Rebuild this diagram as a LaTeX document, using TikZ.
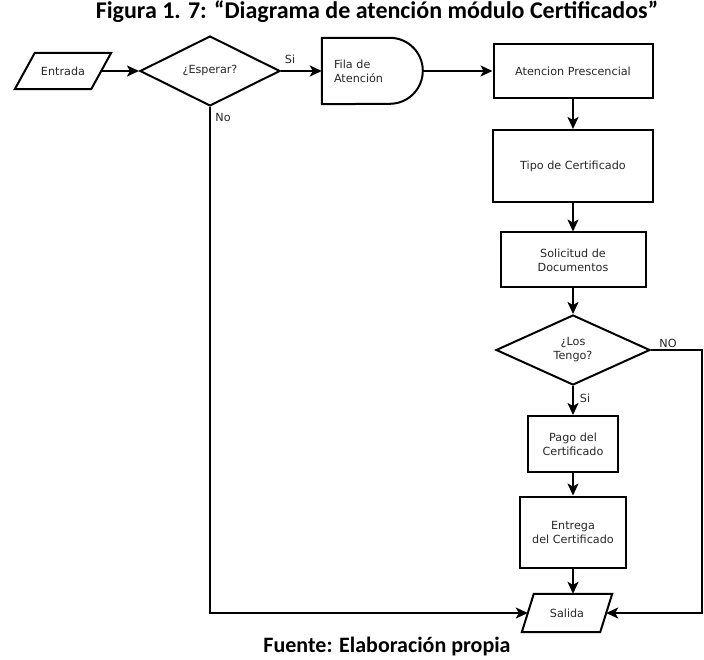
\documentclass[tikz,border=0pt]{standalone}
\usepackage{fontspec}
\setmainfont{DejaVu Sans}
\newfontfamily\capfont{Carlito}
\usetikzlibrary{shapes.geometric,arrows.meta}

\begin{document}
\begin{tikzpicture}[x=1pt,y=-1pt,
  every node/.style={font=\fontsize{11.2}{14}\selectfont, text=black!85},
  outline/.style={line width=2pt, line join=miter},
  box/.style={draw, outline, rectangle, align=center, inner sep=0pt},
  dec/.style={draw, outline, diamond, inner sep=0pt, align=center},
  iobody/.style={rectangle, inner sep=0pt, align=center},
  flow/.style={line width=2pt, -{Stealth[length=12pt,width=11pt,inset=3pt]}},
  lbl/.style={inner sep=0pt},
  caption/.style={font=\capfont\bfseries, text=black},
]
\useasboundingbox (0,0) rectangle (704,660);

% captions
\node[caption, font=\capfont\bfseries\fontsize{24}{28}\selectfont] (title) at (377,12) {Figura 1. 7: “Diagrama de atención módulo Certificados”};
\node[caption, font=\capfont\bfseries\fontsize{22}{26}\selectfont] (foot) at (387,647) {Fuente: Elaboración propia};

% input / output bodies (parallelograms drawn around them)
\node[iobody, minimum width=76pt, minimum height=36pt] (ent) at (63,71) {Entrada};
\draw[outline] ([xshift=-10pt]ent.south west) -- ([xshift=10pt]ent.north west)
  -- ([xshift=10pt]ent.north east) -- ([xshift=-10pt]ent.south east) -- cycle;
\node[iobody, minimum width=78pt, minimum height=38pt] (sal) at (567,613) {Salida};
\draw[outline] ([xshift=-6pt]sal.south west) -- ([xshift=6pt]sal.north west)
  -- ([xshift=6pt]sal.north east) -- ([xshift=-6pt]sal.south east) -- cycle;

% decisions
\node[dec, minimum width=140pt, minimum height=70pt] (esp) at (210,71) {¿Esperar?};
\node[dec, minimum width=154pt, minimum height=70pt] (tengo) at (573,350) {¿Los\\Tengo?};

% waiting line (delay shape)
\node[minimum height=66pt, text width=77pt, inner xsep=12pt, inner ysep=0pt, align=left] (fila) at (372.5,71) {Fila de\\Atención};
\draw[outline] (fila.north west) -- ++(68,0) arc[start angle=-90, end angle=90, radius=33] -- (fila.south west) -- cycle;

% process steps
\node[box, minimum width=159pt, minimum height=54pt] (aten) at (573,71) {Atencion Prescencial};
\node[box, minimum width=160pt, minimum height=72pt] (tipo) at (573,166) {Tipo de Certificado};
\node[box, minimum width=145pt, minimum height=55pt] (sol) at (573,260) {Solicitud de\\Documentos};
\node[box, minimum width=90pt, minimum height=56pt] (pago) at (573,444) {Pago del\\Certificado};
\node[box, minimum width=106pt, minimum height=71pt] (entr) at (573,532) {Entrega\\del Certificado};

% branch labels
\node[lbl] (si1) at (290,59) {Si};
\node[lbl] (no1) at (223,117) {No};
\node[lbl] (no2) at (668,343) {NO};
\node[lbl] (si2) at (585,398) {Si};

% connectors
\coordinate (rt) at (702,350);
\coordinate (rb) at (702,613);
\draw[flow] (ent.east) -- (esp.west);
\draw[flow] (esp.east) -- (fila.west);
\draw[flow] (fila.east) -- (aten.west);
\draw[flow] (aten) -- (tipo);
\draw[flow] (tipo) -- (sol);
\draw[flow] (sol) -- (tengo);
\draw[flow] (tengo) -- (pago);
\draw[flow] (pago) -- (entr);
\draw[flow] (entr.south) -- (entr.south |- sal.north);
\draw[flow] (esp.south) |- (sal.west);
\draw[flow] (tengo.east) -- (rt) -- (rb) -- (sal.east);
\end{tikzpicture}
\end{document}
